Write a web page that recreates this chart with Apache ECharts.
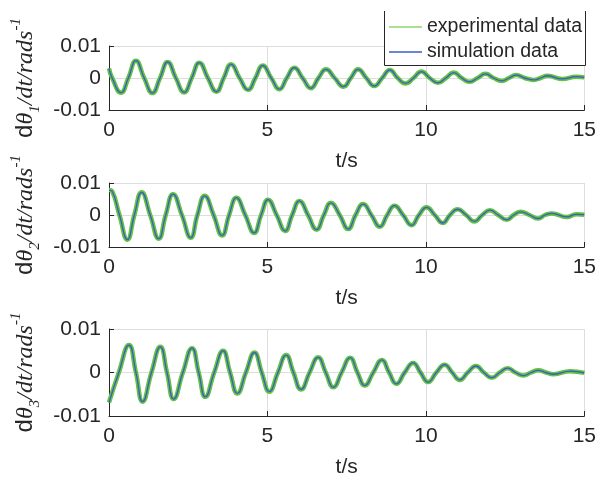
<!DOCTYPE html>
<html>
<head>
<meta charset="utf-8">
<script src="https://cdn.jsdelivr.net/npm/echarts@6/dist/echarts.min.js"></script>
<style>
  html, body { margin: 0; padding: 0; background: #fff; }
  #chart { width: 599px; height: 479px; }
</style>
</head>
<body>
<div id="chart"></div>
<script>
// values: peaks, troughs and zero crossings (t in s, rad/s)
const t1 = [0, 0.10, 0.38, 0.61, 0.85, 1.11, 1.37, 1.61, 1.85, 2.11, 2.37, 2.61, 2.85, 3.12, 3.39, 3.62, 3.85, 4.12, 4.39, 4.62, 4.85, 5.12, 5.38, 5.61, 5.85, 6.11, 6.37, 6.61, 6.85, 7.12, 7.40, 7.63, 7.86, 8.12, 8.37, 8.62, 8.86, 9.11, 9.36, 9.61, 9.86, 10.12, 10.38, 10.63, 10.88, 11.13, 11.38, 11.63, 11.88, 12.14, 12.40, 12.62, 12.85, 13.12, 13.40, 13.62, 13.84, 14.30, 14.75, 15];
const v1 = [0.0030, 0, -0.0046, 0, 0.0054, 0, -0.0047, 0, 0.0050, 0, -0.0045, 0, 0.0048, 0, -0.0043, 0, 0.0043, 0, -0.0037, 0, 0.0039, 0, -0.0035, 0, 0.0032, 0, -0.0032, 0, 0.0027, 0, -0.0027, 0, 0.0027, 0, -0.0025, 0, 0.0025, 0, -0.0017, 0, 0.0020, 0, -0.0015, 0, 0.0017, 0, -0.0012, 0, 0.0013, 0, -0.0009, 0, 0.0009, 0, -0.0006, 0, 0.0007, -0.0003, 0.0004, 0.0002];

const t2 = [0, 0.10, 0.33, 0.58, 0.80, 1.03, 1.30, 1.57, 1.79, 2.02, 2.30, 2.58, 2.79, 3.02, 3.30, 3.57, 3.79, 4.02, 4.30, 4.58, 4.80, 5.02, 5.29, 5.56, 5.78, 6.01, 6.28, 6.55, 6.78, 7.00, 7.28, 7.55, 7.78, 8.02, 8.28, 8.55, 8.78, 9.01, 9.28, 9.55, 9.78, 10.02, 10.28, 10.53, 10.76, 11.00, 11.27, 11.53, 11.78, 12.02, 12.28, 12.55, 12.77, 12.99, 13.27, 13.54, 13.76, 13.98, 14.44, 14.75, 15];
const v2 = [0.0078, 0.0074, 0, -0.0077, 0, 0.0071, 0, -0.0074, 0, 0.0065, 0, -0.0071, 0, 0.0060, 0, -0.0064, 0, 0.0054, 0, -0.0056, 0, 0.0048, 0, -0.0050, 0, 0.0044, 0, -0.0046, 0, 0.0038, 0, -0.0044, 0, 0.0034, 0, -0.0037, 0, 0.0029, 0, -0.0032, 0, 0.0024, 0, -0.0025, 0, 0.0018, 0, -0.0020, 0, 0.0015, 0, -0.0015, 0, 0.0010, 0, -0.0011, 0, 0.0005, -0.0006, 0.0002, 0.0001];

const t3 = [0, 0.31, 0.63, 0.85, 1.06, 1.34, 1.62, 1.83, 2.04, 2.33, 2.62, 2.83, 3.04, 3.32, 3.60, 3.82, 4.05, 4.32, 4.59, 4.82, 5.06, 5.33, 5.59, 5.82, 6.06, 6.33, 6.60, 6.84, 7.08, 7.34, 7.61, 7.84, 8.07, 8.34, 8.61, 8.84, 9.07, 9.33, 9.60, 9.83, 10.07, 10.33, 10.59, 10.83, 11.07, 11.32, 11.58, 11.83, 12.08, 12.33, 12.58, 12.83, 13.08, 13.32, 13.55, 13.79, 14.03, 14.55, 15];
const v3 = [-0.0069, 0, 0.0063, 0, -0.0067, 0, 0.0059, 0, -0.0061, 0, 0.0056, 0, -0.0056, 0, 0.0050, 0, -0.0048, 0, 0.0046, 0, -0.0044, 0, 0.0040, 0, -0.0039, 0, 0.0035, 0, -0.0034, 0, 0.0034, 0, -0.0030, 0, 0.0029, 0, -0.0026, 0, 0.0022, 0, -0.0022, 0, 0.0018, 0, -0.0017, 0, 0.0015, 0, -0.0012, 0, 0.0010, 0, -0.0007, 0, 0.0005, 0, -0.0004, 0.0003, -0.0001];

const xTicks = [0, 5, 10, 15];
const yTicks = [-0.01, 0, 0.01];
const seriesNames = ['experimental data', 'simulation data'];

const txt = '#262626';
const green = '#63c23f';
const blue = '#3d5cc9';

const pairs = (ts, vs) => ts.map((t, i) => [t, vs[i]]);
const panels = [
  { top: 46, height: 64, t: t1, v: v1, sub: '1' },
  { top: 183, height: 64, t: t2, v: v2, sub: '2' },
  { top: 329, height: 90, t: t3, v: v3, sub: '3' }
];

const chartDom = document.getElementById('chart');
const myChart = echarts.init(chartDom, null, { renderer: 'canvas' });

const grid = [], xAxis = [], yAxis = [], series = [];
panels.forEach((p, i) => {
  grid.push({ left: 109, right: 13, top: p.top, height: p.height });
  xAxis.push({
    type: 'value', gridIndex: i,
    min: xTicks[0], max: xTicks[xTicks.length - 1], interval: 5,
    name: 't/s', nameLocation: 'middle', nameGap: 41,
    nameTextStyle: { fontFamily: 'Liberation Sans', fontSize: 21, color: txt },
    axisLine: { show: true, onZero: false, lineStyle: { color: txt, width: 1 } },
    axisTick: { show: true, inside: true, length: 5, lineStyle: { color: txt } },
    axisLabel: { fontFamily: 'Liberation Sans', fontSize: 21, color: txt, margin: 10 },
    splitLine: { show: true, lineStyle: { color: '#dedede', width: 1 } }
  });
  yAxis.push({
    type: 'value', gridIndex: i,
    min: yTicks[0], max: yTicks[2], interval: 0.01,
    name: '{a|d}{b|θ}{c|' + p.sub + '}{b|/dt/rads}{d|-1}',
    nameLocation: 'middle', nameRotate: 90, nameGap: 66,
    nameTextStyle: {
      color: txt,
      rich: {
        a: { fontFamily: 'Liberation Sans', fontSize: 24, lineHeight: 34, color: txt },
        b: { fontFamily: 'Liberation Serif', fontStyle: 'italic', fontSize: 24, lineHeight: 34, color: txt },
        c: { fontFamily: 'Liberation Serif', fontStyle: 'italic', fontSize: 15, lineHeight: 15, verticalAlign: 'bottom', color: txt },
        d: { fontFamily: 'Liberation Serif', fontStyle: 'italic', fontSize: 15, lineHeight: 15, verticalAlign: 'top', color: txt }
      }
    },
    axisLine: { show: true, onZero: false, lineStyle: { color: txt, width: 1 } },
    axisTick: { show: true, inside: true, length: 5, lineStyle: { color: txt } },
    axisLabel: {
      fontFamily: 'Liberation Sans', fontSize: 21, color: txt, margin: 8,
      formatter: v => {
        const r = Math.round(v * 100) / 100;
        return r === 0 ? '0' : r.toFixed(2);
      }
    },
    splitLine: { show: true, lineStyle: { color: '#dedede', width: 1 } }
  });
  const data = pairs(p.t, p.v);
  series.push({
    name: seriesNames[0], type: 'line', xAxisIndex: i, yAxisIndex: i,
    data: data, smooth: true, showSymbol: false, symbol: 'none',
    lineStyle: { color: green, width: 4.5 }, itemStyle: { color: '#8fd46f' },
    animation: false, z: 2
  });
  series.push({
    name: seriesNames[1], type: 'line', xAxisIndex: i, yAxisIndex: i,
    data: data, smooth: true, showSymbol: false, symbol: 'none',
    lineStyle: { color: blue, width: 1.3 }, itemStyle: { color: blue },
    animation: false, z: 3
  });
});

const option = {
  backgroundColor: '#fff',
  animation: false,
  grid, xAxis, yAxis, series,
  legend: {
    data: seriesNames,
    orient: 'vertical',
    left: 385, top: 13,
    padding: [4, 4, 4, 4],
    itemGap: 5,
    itemWidth: 33, itemHeight: 1.5,
    itemTextGap: 4,
    icon: 'rect',
    backgroundColor: '#fff',
    textStyle: { fontFamily: 'Liberation Sans', fontSize: 19.5, color: txt, lineHeight: 20 },
    z: 10
  },
  graphic: [{
    type: 'polyline', z: 20, silent: true,
    shape: { points: [[384.5, 11], [384.5, 65.5], [585.5, 65.5], [585.5, 11]] },
    style: { stroke: txt, lineWidth: 1, fill: null }
  }]
};

option && myChart.setOption(option);
</script>
</body>
</html>
